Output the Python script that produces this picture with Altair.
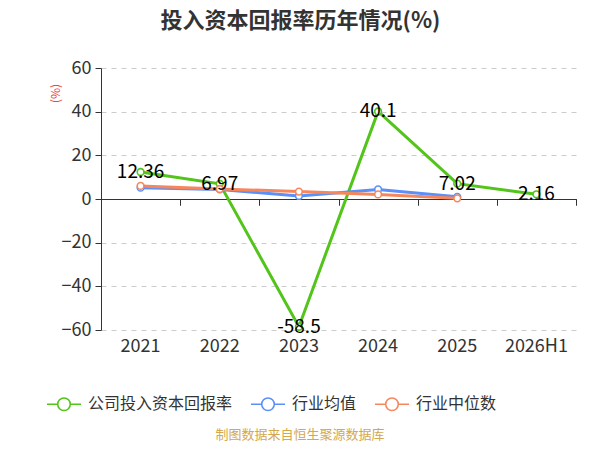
import altair as alt
import pandas as pd

years = ["2021", "2022", "2023", "2024", "2025", "2026H1"]
company = [12.36, 6.97, -58.5, 40.1, 7.02, 2.16]
ind_mean_years = ["2021", "2022", "2023", "2024", "2025"]
ind_mean = [5.2, 4.4, 1.4, 4.4, 1.0]
ind_median = [6.0, 4.6, 3.4, 2.1, 0.3]

S1, S2, S3 = "公司投入资本回报率", "行业均值", "行业中位数"
rows = []
for y, v in zip(years, company):
    rows.append({"year": y, "value": v, "series": S1, "label": f"{v:g}"})
for y, v in zip(ind_mean_years, ind_mean):
    rows.append({"year": y, "value": v, "series": S2, "label": ""})
for y, v in zip(ind_mean_years, ind_median):
    rows.append({"year": y, "value": v, "series": S3, "label": ""})
df = pd.DataFrame(rows)

FONT = "Noto Sans CJK SC"
W, H = 475, 262
colors = ["#52c41a", "#5b8ff9", "#f6875d"]

xscale = alt.Scale(domain=years, paddingInner=0, paddingOuter=0)
yscale = alt.Scale(domain=[-60, 60])
color = alt.Color("series:N", scale=alt.Scale(domain=[S1, S2, S3], range=colors),
                  legend=alt.Legend(
                      title=None, orient="none", direction="horizontal",
                      legendX=-55, legendY=318,
                      symbolType="M-1,0L-0.37,0M0.37,0L1,0M0.37,0A0.37,0.37,0,1,1,-0.37,0A0.37,0.37,0,1,1,0.37,0",
                      symbolSize=1156, symbolStrokeWidth=1.6, symbolFillColor="white",
                      labelFont=FONT, labelFontSize=16, labelColor="#333333",
                      labelOffset=6, columnPadding=14))

yaxis = alt.Axis(values=[-60, -40, -20, 0, 20, 40, 60], title="(%)", titleColor="#e8453c",
                 titleFont=FONT, titleFontSize=12, titleFontWeight="normal",
                 titleX=-39, titleY=25, titleAngle=-90, titleAlign="center",
                 labelFont=FONT, labelFontSize=18, labelColor="#333333", labelPadding=4,
                 domainColor="#333333", tickColor="#333333", tickSize=6,
                 gridColor="#cccccc", gridDash=[5, 5])

x_labels_axis = alt.Axis(title=None, orient="bottom", domain=False, ticks=False,
                         labelFont=FONT, labelFontSize=18, labelColor="#333333",
                         labelPadding=7, labelAngle=0, grid=False)
x_ticks_axis = alt.Axis(title=None, orient="bottom", labels=False, offset=-H / 2,
                        domainColor="#333333", tickColor="#333333", tickSize=6,
                        tickBand="extent", grid=False)

base = alt.Chart(df)

lines = base.mark_line(strokeWidth=3).encode(
    x=alt.X("year:N", scale=xscale, axis=x_labels_axis, sort=years),
    y=alt.Y("value:Q", scale=yscale, axis=yaxis),
    color=color,
)
points = base.mark_point(shape="circle", filled=True, fill="white", size=45, strokeWidth=1.6, opacity=1).encode(
    x=alt.X("year:N", scale=xscale, axis=x_ticks_axis, sort=years),
    y=alt.Y("value:Q", scale=yscale, axis=yaxis),
    stroke=alt.Stroke("series:N", scale=alt.Scale(domain=[S1, S2, S3], range=colors), legend=None),
)
labels = base.transform_filter(alt.datum.series == S1).mark_text(
    font=FONT, fontSize=19, color="#000000", baseline="middle", align="center"
).encode(
    x=alt.X("year:N", scale=xscale, axis=x_ticks_axis, sort=years),
    y=alt.Y("value:Q", scale=yscale, axis=yaxis),
    text="label:N",
)
source = alt.Chart(pd.DataFrame({"t": ["制图数据来自恒生聚源数据库"]})).mark_text(
    font=FONT, fontSize=13, color="#d4a84b", align="center", baseline="middle"
).encode(x=alt.value(199), y=alt.value(367), text="t:N")

chart = alt.layer(lines, points, labels, source).resolve_axis(x="independent").properties(
    width=W, height=H,
    title=alt.TitleParams("投入资本回报率历年情况(%)", font=FONT, fontSize=22, fontWeight="bold",
                          color="#333333", anchor="middle", dx=-38, offset=26),
    autosize=alt.AutoSizeParams(type="none"),
    padding={"left": 93, "top": 60, "right": 8, "bottom": 112},
).configure_view(stroke=None)

chart.save("out.html", embed_options={"renderer": "svg", "actions": False})
